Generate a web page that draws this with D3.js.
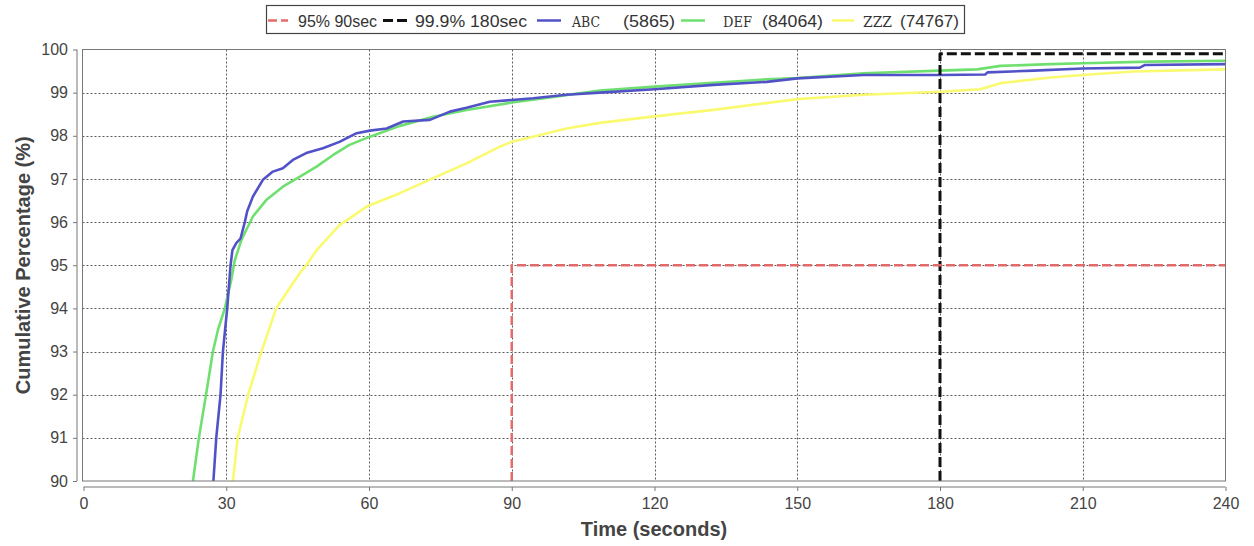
<!DOCTYPE html>
<html><head><meta charset="utf-8">
<script src="https://cdn.jsdelivr.net/npm/d3@7"></script>
<style>body{margin:0;background:#fff} svg{display:block}</style>
</head><body>
<svg id="chart" width="1254" height="546"></svg>
<script>
// ---------- data ----------
const xTickValues = [0, 30, 60, 90, 120, 150, 180, 210, 240];
const yTickValues = [90, 91, 92, 93, 94, 95, 96, 97, 98, 99, 100];
const thresholdLabels = ["95% 90sec", "99.9% 180sec"];
const seriesNames = ["ABC", "DEF", "ZZZ"];
const seriesCounts = ["(5865)", "(84064)", "(74767)"];

// [time (s), cumulative %]
const abcData = [[27.3,90],[27.9,91],[28.8,92],[29.3,93],[30.2,94],[30.9,95.0],[31.3,95.35],[32.1,95.51],[33.0,95.62],
  [33.9,96.0],[34.4,96.25],[35.6,96.59],[37.7,96.98],[39.8,97.17],[41.9,97.25],[44,97.44],[46.8,97.6],[50.3,97.71],
  [53.8,97.86],[57.4,98.06],[60.2,98.12],[63.7,98.17],[67.2,98.33],[72.8,98.37],[77,98.56],[80.5,98.65],[85.4,98.79],
  [90,98.83],[94.5,98.87],[101.5,98.95],[108.5,99.0],[120,99.08],[132.4,99.18],[143.6,99.25],[150,99.33],[163.9,99.41],
  [180,99.41],[189.5,99.42],[190,99.47],[199.7,99.51],[210,99.56],[222,99.58],[223,99.64],[240,99.66]];
const defData = [[23.0,90],[24.25,91],[25.75,92],[27.2,93],[28.25,93.5],[29.7,94],[31.06,94.66],[31.6,95.0],[31.8,95.12],
  [33.2,95.59],[35.6,96.13],[38.4,96.51],[41.9,96.82],[45.4,97.05],[48.9,97.28],[52.4,97.55],[55.9,97.79],[60.2,97.98],
  [66.5,98.23],[73.5,98.44],[80.5,98.6],[90,98.77],[98,98.89],[108.5,99.05],[120,99.14],[132.4,99.23],[143.6,99.31],
  [150,99.34],[163.9,99.45],[180,99.51],[187.8,99.54],[192.7,99.62],[203.2,99.66],[210,99.68],[224.2,99.72],[240,99.74]];
const zzzData = [[31.4,90],[32.4,91],[34.6,92],[37.4,93],[40.5,94],[41.6,94.19],[45.4,94.81],[46.8,95.0],[49,95.35],
  [53.8,95.93],[59.5,96.36],[66.5,96.67],[73.5,97.02],[80.5,97.36],[87.5,97.75],[90,97.86],[94.5,97.98],[101.5,98.17],
  [108.5,98.3],[120,98.45],[132.4,98.6],[150,98.85],[163.9,98.95],[180,99.02],[188.5,99.08],[192.7,99.22],[203.2,99.35],
  [210,99.41],[220.7,99.49],[240,99.54]];
const target95 = [[90,90],[90,95],[240,95]];
const target999 = [[180,90],[180,99.9],[240,99.9]];

// ---------- layout ----------
const W = 1254, H = 546;
const plot = {left: 82.5, right: 1225.5, top: 49.5, bottom: 481};
const svg = d3.select("#chart");
const FONT = "'Liberation Sans', Arial, sans-serif";
const MONO = "'DejaVu Serif', 'Liberation Serif', serif";

const x = d3.scaleLinear().domain([0, 240]).range([83.5, 1225.5]);
const y = d3.scaleLinear().domain([90, 100]).range([plot.bottom, plot.top]);

svg.append("rect").attr("width", W).attr("height", H).attr("fill", "#fff");

// plot background
svg.append("rect").attr("x", plot.left).attr("y", plot.top)
  .attr("width", plot.right - plot.left).attr("height", plot.bottom - plot.top)
  .attr("fill", "#fff");

// gridlines
const grid = svg.append("g").attr("stroke", "#5a5a5a").attr("stroke-width", 1).attr("stroke-dasharray", "2,2");
grid.selectAll("line.v").data(xTickValues.filter(v => v > 0 && v < 240)).join("line")
  .attr("x1", d => Math.round(x(d)) + 0.5).attr("x2", d => Math.round(x(d)) + 0.5)
  .attr("y1", plot.top).attr("y2", plot.bottom);
grid.selectAll("line.h").data(yTickValues.filter(v => v > 90 && v < 100)).join("line")
  .attr("y1", d => Math.round(y(d)) + 0.5).attr("y2", d => Math.round(y(d)) + 0.5)
  .attr("x1", plot.left).attr("x2", plot.right);

// clip
svg.append("clipPath").attr("id", "clip").append("rect")
  .attr("x", plot.left).attr("y", plot.top - 2)
  .attr("width", plot.right - plot.left).attr("height", plot.bottom - plot.top + 2);

const line = d3.line().x(d => x(d[0])).y(d => y(d[1]));
const lines = svg.append("g").attr("clip-path", "url(#clip)").attr("fill", "none")
  .attr("stroke-linejoin", "round");

const seriesStyles = [
  {data: zzzData, color: "#fafa70", width: 2.6},
  {data: defData, color: "#6fe06f", width: 2.6},
  {data: abcData, color: "#5252c8", width: 2.6}
];
seriesStyles.forEach(s => {
  lines.append("path").datum(s.data).attr("d", line)
    .attr("stroke", s.color).attr("stroke-width", s.width);
});
lines.append("path").datum(target999).attr("d", line)
  .attr("stroke", "#111").attr("stroke-width", 3).attr("stroke-dasharray", "10,4");
lines.append("path").datum(target95).attr("d", line)
  .attr("stroke", "#e36a6a").attr("stroke-width", 2.5).attr("stroke-dasharray", "9,4");

// plot border
svg.append("rect").attr("x", plot.left).attr("y", plot.top)
  .attr("width", plot.right - plot.left).attr("height", plot.bottom - plot.top)
  .attr("fill", "none").attr("stroke", "#777").attr("stroke-width", 1);

// axes
const xAxisY = 487;
const xAxis = d3.axisBottom(x).tickValues(xTickValues).tickSize(4).tickPadding(7).tickFormat(d3.format("d"));
const gx = svg.append("g").attr("transform", `translate(0,${xAxisY})`).call(xAxis);
gx.select(".domain").attr("stroke", "#777").attr("d", `M${x(0)},0H${x(240)}`);
gx.selectAll(".tick line").attr("stroke", "#777");
gx.selectAll(".tick text").attr("font-family", FONT).attr("font-size", 16).attr("fill", "#444");

const yAxisX = 77;
const yAxis = d3.axisLeft(y).tickValues(yTickValues).tickSize(4).tickPadding(5).tickFormat(d3.format("d"));
const gy = svg.append("g").attr("transform", `translate(${yAxisX},0)`).call(yAxis);
gy.select(".domain").attr("stroke", "#777").attr("d", `M0,${y(90)}V${y(100)}`);
gy.selectAll(".tick line").attr("stroke", "#777");
gy.selectAll(".tick text").attr("font-family", FONT).attr("font-size", 16).attr("fill", "#444");

// axis titles
svg.append("text").attr("x", (plot.left + plot.right) / 2).attr("y", 536)
  .attr("text-anchor", "middle").attr("font-family", FONT).attr("font-weight", "bold")
  .attr("font-size", 20).attr("fill", "#444").text("Time (seconds)");
svg.append("text").attr("transform", `translate(30,${(plot.top + plot.bottom) / 2}) rotate(-90)`)
  .attr("text-anchor", "middle").attr("font-family", FONT).attr("font-weight", "bold")
  .attr("font-size", 20).attr("fill", "#444").text("Cumulative Percentage (%)");

// legend
const lg = svg.append("g");
lg.append("rect").attr("x", 266.5).attr("y", 5.5).attr("width", 698).attr("height", 28)
  .attr("fill", "#fff").attr("stroke", "#444").attr("stroke-width", 1.2);
const legendItems = [
  {sym: [268, 288], color: "#e36a6a", dash: "9,4", w: 2.5, parts: [{t: thresholdLabels[0], x: 298, len: 79}]},
  {sym: [383, 407], color: "#111", dash: "10,4", w: 3, parts: [{t: thresholdLabels[1], x: 415, len: 112}]},
  {sym: [537, 561], color: "#5252c8", dash: null, w: 2.5, parts: [{t: seriesNames[0], x: 572, len: 28, mono: true}, {t: seriesCounts[0], x: 623, len: 52}]},
  {sym: [681, 705], color: "#6fe06f", dash: null, w: 2.5, parts: [{t: seriesNames[1], x: 723, len: 29, mono: true}, {t: seriesCounts[1], x: 762, len: 61}]},
  {sym: [832, 854], color: "#fafa70", dash: null, w: 2.5, parts: [{t: seriesNames[2], x: 863, len: 29, mono: true}, {t: seriesCounts[2], x: 900, len: 59}]}
];
legendItems.forEach(it => {
  const l = lg.append("line").attr("x1", it.sym[0]).attr("x2", it.sym[1]).attr("y1", 20.5).attr("y2", 20.5)
    .attr("stroke", it.color).attr("stroke-width", it.w);
  if (it.dash) l.attr("stroke-dasharray", it.dash);
  it.parts.forEach(p => {
    lg.append("text").attr("x", p.x).attr("y", 27)
      .attr("font-family", p.mono ? MONO : FONT)
      .attr("font-size", p.mono ? 14 : 16).attr("fill", "#333")
      .attr("textLength", p.len).attr("lengthAdjust", "spacingAndGlyphs").text(p.t);
  });
});
</script>
</body></html>
